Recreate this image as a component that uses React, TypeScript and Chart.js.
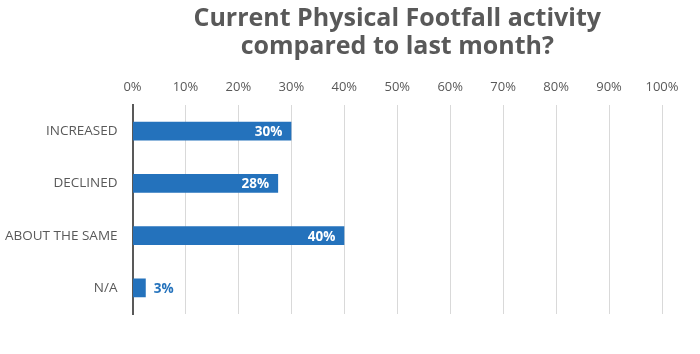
import React, { useEffect, useRef } from "react";
import { Chart, registerables } from "chart.js";

Chart.register(...registerables);

const categories = ["INCREASED", "DECLINED", "ABOUT THE SAME", "N/A"];
const values = [30, 27.5, 40, 2.5];
const titleLines = ["Current Physical Footfall activity", "compared to last month?"];
const barColor = "#2472BC";
const textGray = "#595959";

const labelPlugin = {
  id: "barLabels",
  afterDatasetsDraw(chart: any) {
    const { ctx } = chart;
    const meta = chart.getDatasetMeta(0);
    ctx.save();
    ctx.font = "bold 13.5px 'Open Sans', sans-serif";
    ctx.textBaseline = "middle";
    meta.data.forEach((bar: any, i: number) => {
      const v = values[i];
      const txt = Math.round(v) + "%";
      const w = ctx.measureText(txt).width;
      const barW = bar.x - bar.base;
      if (barW > w + 14) {
        ctx.fillStyle = "#ffffff";
        ctx.textAlign = "right";
        ctx.fillText(txt, bar.x - 9, bar.y + 1);
      } else {
        ctx.fillStyle = barColor;
        ctx.textAlign = "left";
        ctx.fillText(txt, bar.x + 8, bar.y + 1);
      }
    });
    ctx.restore();
  },
};

export default function App() {
  const ref = useRef<HTMLCanvasElement>(null);
  useEffect(() => {
    document.body.style.margin = "0";
    const chart = new Chart(ref.current!, {
      type: "bar",
      data: {
        labels: categories,
        datasets: [
          {
            data: values,
            backgroundColor: barColor,
            barPercentage: 0.36,
            categoryPercentage: 1,
          },
        ],
      },
      plugins: [labelPlugin],
      options: {
        indexAxis: "y",
        animation: false,
        responsive: false,
        layout: { padding: { top: 4, right: 38, bottom: 40, left: -10 } },
        plugins: {
          legend: { display: false },
          tooltip: { enabled: false },
          title: {
            display: true,
            text: titleLines,
            fullSize: false,
            color: textGray,
            font: { family: "'Open Sans', sans-serif", size: 25, weight: "bold", lineHeight: 1.15 },
            padding: { top: 0, bottom: 8 },
          },
        },
        scales: {
          x: {
            position: "top",
            min: 0,
            max: 100,
            ticks: {
              stepSize: 10,
              callback: (v: any) => v + "%",
              color: textGray,
              font: { family: "'Open Sans', sans-serif", size: 13 },
              padding: 10,
            },
            grid: { color: "#d9d9d9", lineWidth: 1, drawTicks: false },
            border: { display: false },
          },
          y: {
            ticks: {
              color: textGray,
              font: { family: "'Open Sans', sans-serif", size: 13.5 },
              padding: 15,
            },
            grid: { display: false, drawTicks: false },
            border: { display: true, color: "#595959", width: 2 },
          },
        },
      },
    });
    return () => chart.destroy();
  }, []);
  return <canvas ref={ref} width={700} height={354} style={{ display: "block" }} />;
}
